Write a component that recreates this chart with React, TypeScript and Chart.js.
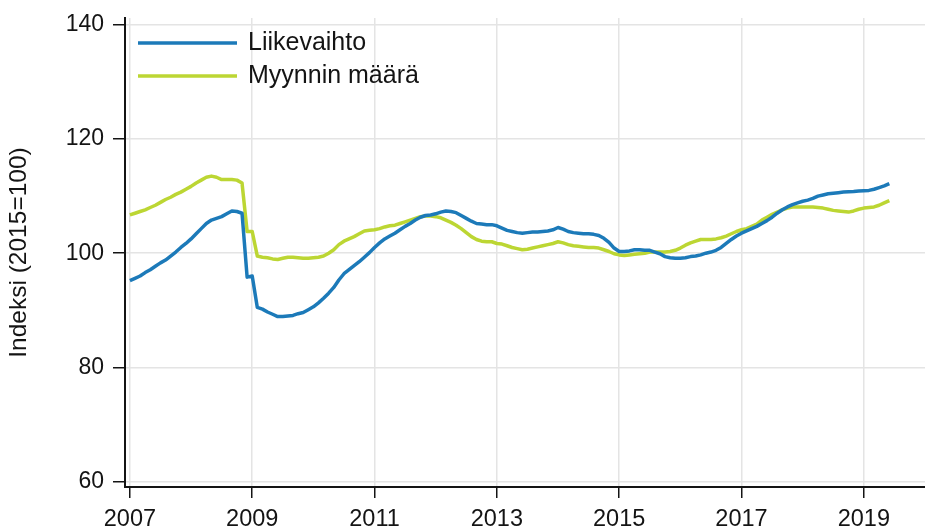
import React, { useEffect, useRef } from "react";
import { Chart, registerables } from "chart.js";

Chart.register(...registerables);

// Monthly index series, Jan 2007 – Jun 2019 (2015 = 100)
const START_YEAR = 2007;

const liikevaihto = [
  95.2, 95.6, 96.0, 96.6, 97.1, 97.7, 98.3, 98.8, 99.5, 100.2, 101.0, 101.7,
  102.5, 103.4, 104.3, 105.2, 105.8, 106.1, 106.4, 106.9, 107.4, 107.3, 107.0, 95.8,
  96.0, 90.5, 90.2, 89.7, 89.3, 88.9, 88.9, 89.0, 89.1, 89.4, 89.6, 90.1,
  90.6, 91.3, 92.1, 93.0, 94.0, 95.3, 96.4, 97.1, 97.8, 98.5, 99.3, 100.1,
  101.0, 101.8, 102.5, 103.0, 103.5, 104.1, 104.7, 105.2, 105.8, 106.3, 106.6, 106.7,
  106.9, 107.2, 107.4, 107.3, 107.1, 106.6, 106.1, 105.6, 105.2, 105.1, 105.0, 105.0,
  104.8, 104.4, 104.0, 103.8, 103.6, 103.5, 103.6, 103.7, 103.7, 103.8, 103.9, 104.1,
  104.5, 104.2, 103.8, 103.6, 103.5, 103.4, 103.4, 103.3, 103.1, 102.6, 101.9, 100.9,
  100.3, 100.3, 100.4, 100.6, 100.6, 100.5, 100.5, 100.2, 99.9, 99.4, 99.2, 99.1,
  99.1, 99.2, 99.4, 99.5, 99.7, 100.0, 100.2, 100.5, 101.0, 101.7, 102.4, 103.0,
  103.5, 103.9, 104.3, 104.7, 105.2, 105.7, 106.3, 107.0, 107.6, 108.1, 108.5, 108.8,
  109.1, 109.3, 109.6, 110.0, 110.2, 110.4, 110.5, 110.6, 110.7, 110.75, 110.8, 110.9,
  110.95, 111.0, 111.2, 111.5, 111.8, 112.2,
];

const myynninMaara = [
  106.7, 107.0, 107.3, 107.6, 108.0, 108.4, 108.9, 109.4, 109.8, 110.3, 110.7, 111.2,
  111.7, 112.3, 112.8, 113.3, 113.5, 113.3, 112.9, 112.9, 112.9, 112.8, 112.3, 103.8,
  103.8, 99.5, 99.3, 99.2, 99.0, 98.9, 99.1, 99.3, 99.3, 99.2, 99.1, 99.1,
  99.2, 99.3, 99.5, 100.0, 100.6, 101.5, 102.1, 102.5, 102.9, 103.4, 103.9, 104.0,
  104.1, 104.3, 104.6, 104.8, 104.9, 105.2, 105.5, 105.8, 106.1, 106.4, 106.5, 106.5,
  106.4, 106.2, 105.8, 105.4, 104.9, 104.3, 103.6, 102.9, 102.4, 102.1, 102.0, 102.0,
  101.7, 101.6, 101.3, 101.0, 100.8, 100.6, 100.7, 100.9, 101.1, 101.3, 101.5, 101.7,
  102.0, 101.8, 101.5, 101.3, 101.2, 101.1, 101.0, 101.0, 100.9, 100.6, 100.3, 99.9,
  99.7, 99.6, 99.7, 99.8, 99.9, 100.0, 100.2, 100.2, 100.2, 100.2, 100.3, 100.5,
  100.9, 101.4, 101.8, 102.1, 102.4, 102.4, 102.4, 102.5, 102.7, 103.0, 103.4, 103.8,
  104.1, 104.3, 104.7, 105.1, 105.8, 106.3, 106.8, 107.2, 107.6, 107.9, 108.1, 108.1,
  108.1, 108.1, 108.1, 108.0, 107.9, 107.7, 107.5, 107.4, 107.3, 107.2, 107.4, 107.7,
  107.9, 108.0, 108.1, 108.4, 108.8, 109.2,
];

const seriesLabels = ["Liikevaihto", "Myynnin määrä"];
const yearTicks = [2007, 2009, 2011, 2013, 2015, 2017, 2019];
const valueTicks = [60, 80, 100, 120, 140];
const yTitle = "Indeksi (2015=100)";

const toPoints = (vals: number[]) =>
  vals.map((v, i) => ({ x: START_YEAR + i / 12, y: v }));

const FONT = "'Liberation Sans', Arial, sans-serif";
const TEXT = "#141414";

const insideLegend = {
  id: "insideLegend",
  afterDatasetsDraw(chart: any) {
    const { ctx, chartArea } = chart;
    chart.data.datasets.forEach((ds: any, i: number) => {
      const y = chartArea.top + 25 + i * 33;
      ctx.save();
      ctx.strokeStyle = ds.borderColor;
      ctx.lineWidth = 3.5;
      ctx.beginPath();
      ctx.moveTo(chartArea.left + 13, y);
      ctx.lineTo(chartArea.left + 112, y);
      ctx.stroke();
      ctx.fillStyle = TEXT;
      ctx.font = `25px ${FONT}`;
      ctx.textBaseline = "middle";
      ctx.textAlign = "left";
      ctx.fillText(ds.label, chartArea.left + 123, y);
      ctx.restore();
    });
  },
};

export default function App() {
  const ref = useRef<HTMLCanvasElement | null>(null);

  useEffect(() => {
    if (!ref.current) return;
    const chart = new Chart(ref.current, {
      type: "line",
      data: {
        datasets: [
          {
            label: seriesLabels[0],
            data: toPoints(liikevaihto),
            borderColor: "#1c7ab9",
            borderWidth: 3.5,
            pointRadius: 0,
            tension: 0,
            borderJoinStyle: "round",
          },
          {
            label: seriesLabels[1],
            data: toPoints(myynninMaara),
            borderColor: "#bcd633",
            borderWidth: 3.5,
            pointRadius: 0,
            tension: 0,
            borderJoinStyle: "round",
          },
        ],
      },
      options: {
        animation: false,
        responsive: false,
        events: [],
        layout: { padding: { left: 0, top: 18, right: 0, bottom: 0 } },
        plugins: {
          legend: { display: false },
          tooltip: { enabled: false },
        },
        scales: {
          x: {
            type: "linear",
            min: 2006.92,
            max: 2020,
            afterBuildTicks: (s: any) => {
              s.ticks = yearTicks.map((v) => ({ value: v }));
            },
            afterFit: (s: any) => {
              s.height = 42;
              s.paddingLeft = 0;
              s.paddingRight = 0;
            },
            ticks: {
              autoSkip: false,
              maxRotation: 0,
              padding: 7,
              color: TEXT,
              font: { family: FONT, size: 23.5 },
              callback: (v: any) => String(v),
            },
            grid: {
              color: "#e4e4e4",
              lineWidth: 1.5,
              tickColor: TEXT,
              tickLength: 11,
              tickWidth: 1.5,
            },
            border: { display: true, color: TEXT, width: 2 },
          },
          y: {
            type: "linear",
            min: 59.04,
            max: 141.2,
            afterBuildTicks: (s: any) => {
              s.ticks = valueTicks.map((v) => ({ value: v }));
            },
            afterFit: (s: any) => {
              s.width = 125;
              s.paddingTop = 0;
              s.paddingBottom = 0;
            },
            ticks: {
              padding: 9,
              color: TEXT,
              font: { family: FONT, size: 23 },
              callback: (v: any) => String(v),
            },
            grid: {
              color: "#e4e4e4",
              lineWidth: 1.5,
              tickColor: TEXT,
              tickLength: 12,
              tickWidth: 1.5,
            },
            border: { display: true, color: TEXT, width: 2 },
            title: {
              display: true,
              text: yTitle,
              color: TEXT,
              font: { family: FONT, size: 24.5 },
              padding: { top: 5, bottom: 0 },
            },
          },
        },
      },
      plugins: [insideLegend],
    });
    return () => chart.destroy();
  }, []);

  return (
    <div style={{ position: "absolute", left: 0, top: 0, width: 925, height: 529, background: "#fff" }}>
      <canvas ref={ref} width={925} height={529} style={{ display: "block" }} />
    </div>
  );
}
